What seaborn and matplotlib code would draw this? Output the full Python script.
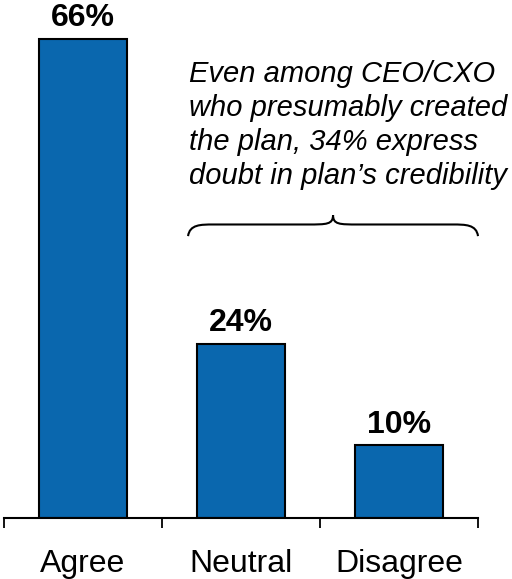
import matplotlib
matplotlib.use("Agg")
import matplotlib.pyplot as plt
import matplotlib.ticker as ticker
from matplotlib.path import Path
from matplotlib.patches import PathPatch
import seaborn as sns
import pandas as pd

categories = ["Agree", "Neutral", "Disagree"]
values = [66, 24, 10]
value_labels = ["66%", "24%", "10%"]
note = ("Even among CEO/CXO\n"
        "who presumably created\n"
        "the plan, 34% express\n"
        "doubt in plan\u2019s credibility")

BAR_COLOR = "#0A67AE"

def main():
	sns.set_style("white")
	plt.rcParams['font.family'] = ['Liberation Sans', 'DejaVu Sans']
	plt.rcParams['text.color'] = "black"
	plt.rcParams['xtick.color'] = "black"

	df = pd.DataFrame({"category": categories, "value": values})
	fig = plt.figure(figsize=(5.12, 5.79), dpi=100)
	ax = fig.add_axes([4 / 512, 61 / 579, 474 / 512, 518 / 579])

	sns.barplot(data=df, x="category", y="value", color=BAR_COLOR, saturation=1,
		width=0.557, edgecolor="black", linewidth=1.5, ax=ax)

	ax.set_xlim(-0.5, 2.5)
	ax.set_ylim(0, 71.3)

	# value labels above bars
	for i, (v, lab) in enumerate(zip(values, value_labels)):
		ax.annotate(lab, (i, v), xytext=(0, 4), textcoords="offset points",
			ha="center", va="bottom", fontsize=23, fontweight="bold", color="black")

	# ticks between categories, labels centered under bars
	ax.xaxis.set_major_locator(ticker.FixedLocator([-0.5, 0.5, 1.5, 2.5]))
	ax.xaxis.set_major_formatter(ticker.NullFormatter())
	ax.xaxis.set_minor_locator(ticker.FixedLocator(range(len(categories))))
	ax.xaxis.set_minor_formatter(ticker.FixedFormatter(categories))
	ax.tick_params(axis="x", which="major", length=7.5, width=1.3, color="black", bottom=True)
	ax.tick_params(axis="x", which="minor", length=0, pad=22, labelsize=23, labelcolor="black")
	ax.set_yticks([])
	ax.set_xlabel("")
	ax.set_ylabel("")

	for s in ["top", "right", "left"]:
		ax.spines[s].set_visible(False)
	ax.spines["bottom"].set_color("black")
	ax.spines["bottom"].set_linewidth(1.5)

	# annotation text and curly brace
	ax.text(0.672, 63.0, note, ha="left", va="top", fontsize=21, style="italic",
		linespacing=1.27, color="black")

	x0, x1 = 0.665, 2.5
	xm = (x0 + x1) / 2
	yb, yf, yt = 38.8, 40.4, 41.7
	d = 0.08
	verts = [
		(x0, yb), (x0 + 0.01, yf), (x0 + d, yf), (x0 + 2 * d, yf),
		(xm - 2 * d, yf),
		(xm - d / 2, yf), (xm, yf), (xm, yt),
		(xm, yf), (xm + d / 2, yf), (xm + 2 * d, yf),
		(x1 - 2 * d, yf),
		(x1 - d, yf), (x1 - 0.01, yf), (x1, yb),
	]
	codes = [Path.MOVETO, Path.CURVE4, Path.CURVE4, Path.CURVE4,
		Path.LINETO,
		Path.CURVE4, Path.CURVE4, Path.CURVE4,
		Path.CURVE4, Path.CURVE4, Path.CURVE4,
		Path.LINETO,
		Path.CURVE4, Path.CURVE4, Path.CURVE4]
	ax.add_patch(PathPatch(Path(verts, codes), facecolor="none", edgecolor="black",
		linewidth=1.5, clip_on=False))

	fig.savefig("out.png", dpi=100)

if __name__ == '__main__':
	main()
